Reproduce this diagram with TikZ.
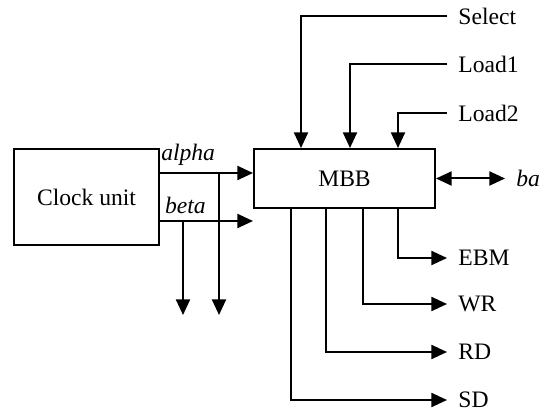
\documentclass[tikz,border=0pt]{standalone}
\usepackage{fontspec}
\setmainfont{Liberation Serif}
\usepackage{tikz}
\usetikzlibrary{arrows.meta,positioning,calc}
\tikzset{
  font=\fontsize{11.8}{14}\selectfont,
  >={Triangle[length=7.8pt,width=7pt]},
  box/.style={draw, line width=1pt, fill=white, align=center, inner sep=0pt},
  sig/.style={->, line width=1pt},
  lbl/.style={anchor=west, inner xsep=5.5pt, inner ysep=0pt},
  tag/.style={font=\fontsize{11.8}{14}\selectfont\itshape, inner sep=3pt}
}

\begin{document}
\begin{tikzpicture}[x=0.5pt,y=-0.5pt]
  \useasboundingbox (0,0) rectangle (544,410);

  \node[box, minimum width=72.5pt, minimum height=48pt]   (clock) at (86.5,197)  {Clock unit};
  \node[box, minimum width=90.5pt, minimum height=29.5pt] (mbb)   at (344.5,178.5) {MBB};

  % inputs
  \node[lbl] (sel) at (447,16)  {Select};
  \node[lbl] (ld1) at (447,64)  {Load1};
  \node[lbl] (ld2) at (447,113) {Load2};

  % outputs
  \node[lbl] (ebm) at (447,258) {EBM};
  \node[lbl] (wr)  at (447,304) {WR};
  \node[lbl] (rd)  at (447,352) {RD};
  \node[lbl] (sd)  at (447,400) {SD};
  \node[lbl, font=\fontsize{11.8}{14}\selectfont\itshape] (ba) at (505,178.5) {ba};

  % clock lines
  \coordinate (aout)  at (159,173);
  \coordinate (bout)  at (159,221);
  \coordinate (adrop) at (219,315);
  \coordinate (bdrop) at (183,315);

  \draw[sig] (aout) -- (aout -| mbb.west) node[tag,pos=0.31,above]{alpha};
  \draw[sig] (bout) -- (bout -| mbb.west) node[tag,pos=0.28,above]{beta};
  \draw[sig] (adrop |- aout) -- (adrop);
  \draw[sig] (bdrop |- bout) -- (bdrop);

  \draw[sig] (sel.west) -| ([xshift=24pt]mbb.north west);
  \draw[sig] (ld1.west) -| ([xshift=48.5pt]mbb.north west);
  \draw[sig] (ld2.west) -| ([xshift=72.5pt]mbb.north west);

  \draw[sig] ([xshift=72.5pt]mbb.south west) |- (ebm.west);
  \draw[sig] ([xshift=55pt]mbb.south west)   |- (wr.west);
  \draw[sig] ([xshift=36.5pt]mbb.south west) |- (rd.west);
  \draw[sig] ([xshift=19pt]mbb.south west)   |- (sd.west);

  \draw[sig, <->] (mbb.east) -- (ba.west);
\end{tikzpicture}
\end{document}
